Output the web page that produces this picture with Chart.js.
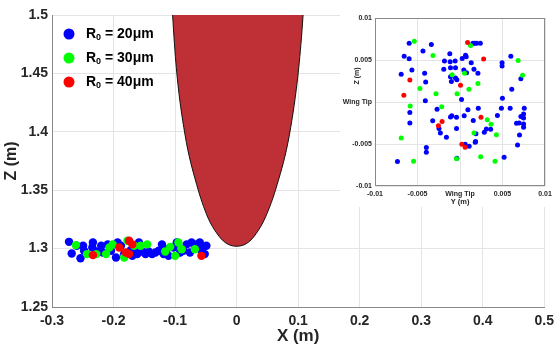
<!DOCTYPE html>
<html lang="en">
<head>
<meta charset="UTF-8">
<title>Droplet positions near wing tip</title>
<script src="https://cdn.jsdelivr.net/npm/chart.js"></script>
<style>
  html, body { margin: 0; padding: 0; background: #fff; }
  #wrap { position: relative; width: 560px; height: 347px; }
  #main { position: absolute; left: 0; top: 0; }
  #inset { position: absolute; left: 340px; top: 0; background: #fff; }
</style>
</head>
<body>
<div id="wrap">
  <canvas id="main" width="560" height="347"></canvas>
  <canvas id="inset" width="220" height="207"></canvas>
</div>
<script>
// main axes ticks
const xTicks = [-0.3, -0.2, -0.1, 0, 0.1, 0.2, 0.3, 0.4, 0.5];
const xTickLabels = ['-0.3', '-0.2', '-0.1', '0', '0.1', '0.2', '0.3', '0.4', '0.5'];
const zTicks = [1.25, 1.3, 1.35, 1.4, 1.45, 1.5];
const zTickLabels = ['1.25', '1.3', '1.35', '1.4', '1.45', '1.5'];

// inset ticks
const insetTicks = [-0.01, -0.005, 0, 0.005, 0.01];
const insetTickLabels = ['-0.01', '-0.005', 'Wing Tip', '0.005', '0.01'];

const legendLabels = ['20μm', '30μm', '40μm'];
const seriesColors = ['#0000ff', '#00ff00', '#ff0000'];

// wing section outline (x, z)
const wingOutline = [
  [-0.106, 1.52], [-0.104, 1.50], [-0.098, 1.455], [-0.084, 1.398], [-0.065, 1.355],
  [-0.047, 1.327], [-0.032, 1.313], [-0.018, 1.305], [0, 1.302],
  [0.018, 1.305], [0.032, 1.313], [0.047, 1.327], [0.066, 1.355],
  [0.086, 1.398], [0.101, 1.455], [0.108, 1.50], [0.110, 1.52]
];

// main view droplets (x, z)
const r20Main = [
  [-0.2724, 1.3058], [-0.260, 1.3024], [-0.268, 1.2958], [-0.2537, 1.2918], [-0.2495, 1.3024],
  [-0.2479, 1.2981], [-0.2335, 1.3052], [-0.2345, 1.3009], [-0.228, 1.2975], [-0.220, 1.3024],
  [-0.2174, 1.2966], [-0.2094, 1.3036], [-0.2041, 1.2981], [-0.196, 1.2924], [-0.1934, 1.3052],
  [-0.188, 1.3024], [-0.1827, 1.2953], [-0.172, 1.2987], [-0.1694, 1.2938], [-0.164, 1.3009],
  [-0.1614, 1.2953], [-0.1587, 1.3052], [-0.1533, 1.2975], [-0.148, 1.2953], [-0.1429, 1.2975],
  [-0.1373, 1.2953], [-0.132, 1.2966], [-0.1266, 1.2981], [-0.1213, 1.3036], [-0.1186, 1.2953],
  [-0.1133, 1.2995], [-0.1106, 1.2938], [-0.1026, 1.3009], [-0.0972, 1.3052], [-0.0918, 1.2966],
  [-0.0865, 1.2981], [-0.0812, 1.3036], [-0.0758, 1.2966], [-0.0732, 1.3052], [-0.0678, 1.3009],
  [-0.0652, 1.3036], [-0.0598, 1.3052], [-0.0572, 1.2981], [-0.0545, 1.3009], [-0.0518, 1.2953],
  [-0.0491, 1.3024]
];
const r30Main = [
  [-0.2612, 1.3030], [-0.2431, 1.2953], [-0.228, 1.2953], [-0.2121, 1.2953], [-0.2067, 1.3009],
  [-0.2014, 1.3036], [-0.1827, 1.2924], [-0.1774, 1.3067], [-0.1667, 1.3024], [-0.156, 1.3024],
  [-0.1453, 1.3036], [-0.116, 1.2975], [-0.1079, 1.3015], [-0.0999, 1.2938], [-0.0946, 1.3052],
  [-0.0892, 1.2995], [-0.0678, 1.2995]
];
const r40Main = [
  [-0.2335, 1.2944], [-0.1907, 1.3009], [-0.1747, 1.3067], [-0.18, 1.2966], [-0.1747, 1.2953],
  [-0.1694, 1.3036], [-0.0572, 1.2938]
];

// inset droplets (y, z) in mm offsets from the wing tip
const r20Inset = [
  [-5.98, 7.00], [-3.37, 6.84], [-4.36, 6.06], [-6.57, 5.46], [-5.98, 5.15], [-1.20, 5.74],
  [0.26, 5.19], [0.65, 5.58], [0.73, 5.38], [1.52, 7.00], [1.76, 7.00], [1.95, 7.00], [2.39, 7.00],
  [-1.83, 4.87], [-1.16, 4.79], [-0.57, 4.87], [-1.91, 3.89], [-1.12, 4.08], [-0.53, 4.08],
  [1.32, 4.67], [1.64, 3.89], [2.11, 3.41], [-5.66, 3.81], [-6.92, 3.29], [-4.16, 3.41],
  [-1.12, 3.02], [-0.53, 2.86], [-0.37, 2.66], [-1.01, 2.43], [0.45, 3.81], [0.77, 3.49],
  [-4.04, 2.39], [4.95, 4.67], [4.95, 4.28], [5.98, 5.46], [7.16, 2.78], [6.09, 1.52],
  [-4.08, 0.14], [-2.70, -0.85], [0.18, 0.30], [0.93, -0.93], [2.15, -0.73], [4.99, 0.45],
  [4.87, -0.73], [5.90, -0.73], [7.56, -0.73], [-5.90, -1.24], [-5.90, -2.50], [-3.21, -2.23],
  [-1.12, -1.79], [-0.97, -1.64], [-0.41, -1.83], [0.49, -1.64], [1.56, -2.19], [4.40, -1.60],
  [7.48, -1.44], [7.48, -1.91], [7.48, -2.62], [7.48, -3.02], [6.96, -2.50], [7.16, -1.72],
  [6.65, -2.54], [7.00, -3.93], [6.77, -5.11], [-2.47, -3.14], [-2.31, -3.69], [-1.60, -4.20],
  [-0.41, -3.14], [1.87, -3.77], [3.10, -3.21], [3.61, -3.25], [1.83, -4.71], [2.86, -3.61],
  [-3.96, -5.42], [-3.96, -5.98], [-7.36, -7.08], [0.61, -5.03], [1.08, -5.27], [1.79, -4.79],
  [5.19, -6.57], [-0.37, -6.69]
];
const r30Inset = [
  [-5.38, 7.24], [-3.18, 5.54], [1.24, 6.73], [6.84, 4.95], [7.36, 3.18], [-0.93, 3.25],
  [0.53, 3.41], [-4.71, 1.60], [-2.82, 0.97], [-0.34, 0.97], [1.05, 1.52], [2.11, 2.19],
  [-5.86, -0.49], [-2.15, -0.57], [3.21, -2.11], [3.65, -2.66], [4.28, -3.89], [1.64, -3.69],
  [-6.92, -4.28], [-5.46, -7.04], [-0.41, -6.77], [2.43, -6.53], [4.12, -7.04]
];
const r40Inset = [
  [0.89, 7.08], [2.78, 5.11], [-5.90, 2.62], [-6.61, 0.81], [0.06, 1.99], [2.47, -1.83],
  [-2.54, -2.82], [-2.11, -2.31], [0.22, -5.03], [0.61, -5.38]
];

const FONT = '"Liberation Sans", Arial, sans-serif';
const TEXT = '#262626';
const GRID = '#e4e4e4';
const AXIS = '#8a8a8a';

Chart.defaults.font.family = FONT;
Chart.defaults.color = TEXT;

function pts(arr) { return arr.map(p => ({ x: p[0], y: p[1] })); }
function ptsMm(arr) { return arr.map(p => ({ x: p[0] / 1000, y: p[1] / 1000 })); }

// legend drawn inside the plot, R with subscript 0
const mainLegend = {
    id: 'mainLegend',
    afterDraw(chart) {
        const ctx = chart.ctx;
        ctx.save();
        legendLabels.forEach((lab, i) => {
            const y = 34 + i * 24;
            ctx.beginPath();
            ctx.arc(69, y, 5.5, 0, Math.PI * 2);
            ctx.fillStyle = seriesColors[i];
            ctx.fill();
            ctx.fillStyle = '#000';
            ctx.textBaseline = 'middle';
            ctx.textAlign = 'left';
            ctx.font = 'bold 14px ' + FONT;
            let x = 86;
            ctx.fillText('R', x, y);
            x += ctx.measureText('R').width;
            ctx.font = 'bold 9px ' + FONT;
            ctx.fillText('0', x, y + 4);
            x += ctx.measureText('0').width;
            ctx.font = 'bold 14px ' + FONT;
            ctx.fillText(' = ' + lab, x, y);
        });
        ctx.restore();
    }
};

new Chart(document.getElementById('main'), {
    type: 'scatter',
    data: {
        datasets: [
            {
                label: 'wing',
                data: pts(wingOutline),
                showLine: true,
                cubicInterpolationMode: 'monotone',
                fill: 'end',
                backgroundColor: '#bf3036',
                borderColor: '#111',
                borderWidth: 1,
                pointRadius: 0,
                order: 5
            },
            { label: 'R0 = 20μm', data: pts(r20Main), backgroundColor: seriesColors[0], borderWidth: 0, pointRadius: 4.2, order: 3 },
            { label: 'R0 = 30μm', data: pts(r30Main), backgroundColor: seriesColors[1], borderWidth: 0, pointRadius: 4.2, order: 2 },
            { label: 'R0 = 40μm', data: pts(r40Main), backgroundColor: seriesColors[2], borderWidth: 0, pointRadius: 4.2, order: 1 }
        ]
    },
    options: {
        responsive: false,
        animation: false,
        layout: { padding: { top: 15, right: 9, left: 0, bottom: 0 } },
        plugins: { legend: { display: false }, tooltip: { enabled: false } },
        scales: {
            x: {
                min: -0.3, max: 0.5,
                afterBuildTicks: s => { s.ticks = xTicks.map(v => ({ value: v })); },
                afterFit: s => { s.height = 40; },
                grid: { color: GRID, drawTicks: false },
                border: { color: AXIS, width: 1 },
                ticks: {
                    padding: 6,
                    maxRotation: 0,
                    font: { size: 14, weight: 'bold' },
                    callback: (v, i) => xTickLabels[i]
                },
                title: { display: true, text: 'X (m)', font: { size: 17, weight: 'bold' }, padding: { top: 0, bottom: 0 } }
            },
            y: {
                min: 1.25, max: 1.5,
                afterBuildTicks: s => { s.ticks = zTicks.map(v => ({ value: v })); },
                afterFit: s => { s.width = 52; },
                grid: { color: GRID, drawTicks: false },
                border: { color: AXIS, width: 1 },
                ticks: {
                    padding: 4,
                    font: { size: 14, weight: 'bold' },
                    callback: (v, i) => zTickLabels[i]
                },
                title: { display: true, text: 'Z (m)', font: { size: 16, weight: 'bold' }, padding: { top: 2, bottom: 0 } }
            }
        }
    },
    plugins: [mainLegend]
});

// inset: full box and the Z title placed by hand
const insetFrame = {
    id: 'insetFrame',
    afterDraw(chart) {
        const a = chart.chartArea;
        const ctx = chart.ctx;
        ctx.save();
        ctx.strokeStyle = AXIS;
        ctx.lineWidth = 1;
        ctx.strokeRect(a.left + 0.5, a.top + 0.5, a.right - a.left - 1, a.bottom - a.top - 1);
        ctx.translate(17, 76);
        ctx.rotate(-Math.PI / 2);
        ctx.fillStyle = TEXT;
        ctx.font = 'bold 7px ' + FONT;
        ctx.textAlign = 'center';
        ctx.textBaseline = 'middle';
        ctx.fillText('Z (m)', 0, 0);
        ctx.restore();
    }
};

new Chart(document.getElementById('inset'), {
    type: 'scatter',
    data: {
        datasets: [
            { label: 'R0 = 20μm', data: ptsMm(r20Inset), backgroundColor: seriesColors[0], borderWidth: 0, pointRadius: 2.5, order: 3 },
            { label: 'R0 = 30μm', data: ptsMm(r30Inset), backgroundColor: seriesColors[1], borderWidth: 0, pointRadius: 2.5, order: 2 },
            { label: 'R0 = 40μm', data: ptsMm(r40Inset), backgroundColor: seriesColors[2], borderWidth: 0, pointRadius: 2.5, order: 1 }
        ]
    },
    options: {
        responsive: false,
        animation: false,
        layout: { padding: { top: 18, right: 15, left: 0, bottom: 0 } },
        plugins: { legend: { display: false }, tooltip: { enabled: false } },
        scales: {
            x: {
                min: -0.01, max: 0.01,
                afterBuildTicks: s => { s.ticks = insetTicks.map(v => ({ value: v })); },
                afterFit: s => { s.height = 21; },
                grid: { color: GRID, drawTicks: false },
                border: { display: false },
                ticks: {
                    padding: 4,
                    maxRotation: 0,
                    font: { size: 7, weight: 'bold' },
                    callback: (v, i) => insetTickLabels[i]
                },
                title: { display: true, text: 'Y (m)', font: { size: 7.5, weight: 'bold' }, padding: { top: 0, bottom: 1 } }
            },
            y: {
                min: -0.01, max: 0.01,
                afterBuildTicks: s => { s.ticks = insetTicks.map(v => ({ value: v })); },
                afterFit: s => { s.width = 35; },
                grid: { color: GRID, drawTicks: false },
                border: { display: false },
                ticks: {
                    padding: 3,
                    font: { size: 7, weight: 'bold' },
                    callback: (v, i) => insetTickLabels[i]
                }
            }
        }
    },
    plugins: [insetFrame]
});
</script>
</body>
</html>
